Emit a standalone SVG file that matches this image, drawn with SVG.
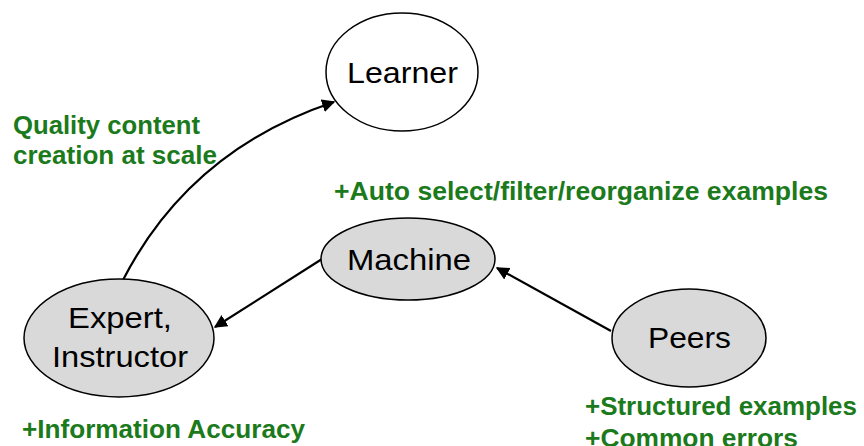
<svg xmlns="http://www.w3.org/2000/svg" width="864" height="446" viewBox="0 0 864 446">
  <style>
    .node { stroke: #000; stroke-width: 1.5; }
    .white { fill: #fff; }
    .grey { fill: #d9d9d9; }
    .name { font-family: "Liberation Sans", Arial, sans-serif; font-size: 30px; fill: #000; }
    .note { font-family: "Liberation Sans", Arial, sans-serif; font-size: 25px; font-weight: bold; fill: #1b7a1b; }
    .edge { fill: none; stroke: #000; stroke-width: 2.2; }
  </style>
  <defs>
    <marker id="arrow" viewBox="0 0 10 10" refX="9" refY="5" markerWidth="6" markerHeight="6" orient="auto" markerUnits="strokeWidth">
      <path d="M0,0 L10,5 L0,10 z" fill="#000"/>
    </marker>
  </defs>
  <rect width="864" height="446" fill="#fff"/>

  <g id="connectors">
    <path class="edge" d="M123,280 Q190,150 334,102" marker-end="url(#arrow)"/>
    <path class="edge" d="M322,259 L215,327" marker-end="url(#arrow)"/>
    <path class="edge" d="M611,331 L497,268" marker-end="url(#arrow)"/>
  </g>

  <g id="learner">
    <ellipse class="node white" cx="402" cy="72" rx="76" ry="59"/>
    <text class="name" x="347" y="83" textLength="111" lengthAdjust="spacingAndGlyphs">Learner</text>
  </g>

  <g id="machine">
    <ellipse class="node grey" cx="408" cy="259" rx="87" ry="41"/>
    <text class="name" x="347" y="270" textLength="124" lengthAdjust="spacingAndGlyphs">Machine</text>
  </g>

  <g id="expert">
    <ellipse class="node grey" cx="119" cy="338" rx="95" ry="59"/>
    <text class="name" x="68" y="328" textLength="104" lengthAdjust="spacingAndGlyphs">Expert,</text>
    <text class="name" x="52" y="367" textLength="136" lengthAdjust="spacingAndGlyphs">Instructor</text>
  </g>

  <g id="peers">
    <ellipse class="node grey" cx="689" cy="338" rx="77" ry="49"/>
    <text class="name" x="648" y="348" textLength="83" lengthAdjust="spacingAndGlyphs">Peers</text>
  </g>

  <g id="notes">
    <text class="note" x="13" y="134" textLength="187" lengthAdjust="spacingAndGlyphs">Quality content</text>
    <text class="note" x="13" y="164" textLength="204" lengthAdjust="spacingAndGlyphs">creation at scale</text>
    <text class="note" x="334" y="200" textLength="494" lengthAdjust="spacingAndGlyphs">+Auto select/filter/reorganize examples</text>
    <text class="note" x="585" y="415" textLength="272" lengthAdjust="spacingAndGlyphs">+Structured examples</text>
    <text class="note" x="585" y="447" textLength="213" lengthAdjust="spacingAndGlyphs">+Common errors</text>
    <text class="note" x="22" y="438" textLength="283" lengthAdjust="spacingAndGlyphs">+Information Accuracy</text>
  </g>
</svg>
